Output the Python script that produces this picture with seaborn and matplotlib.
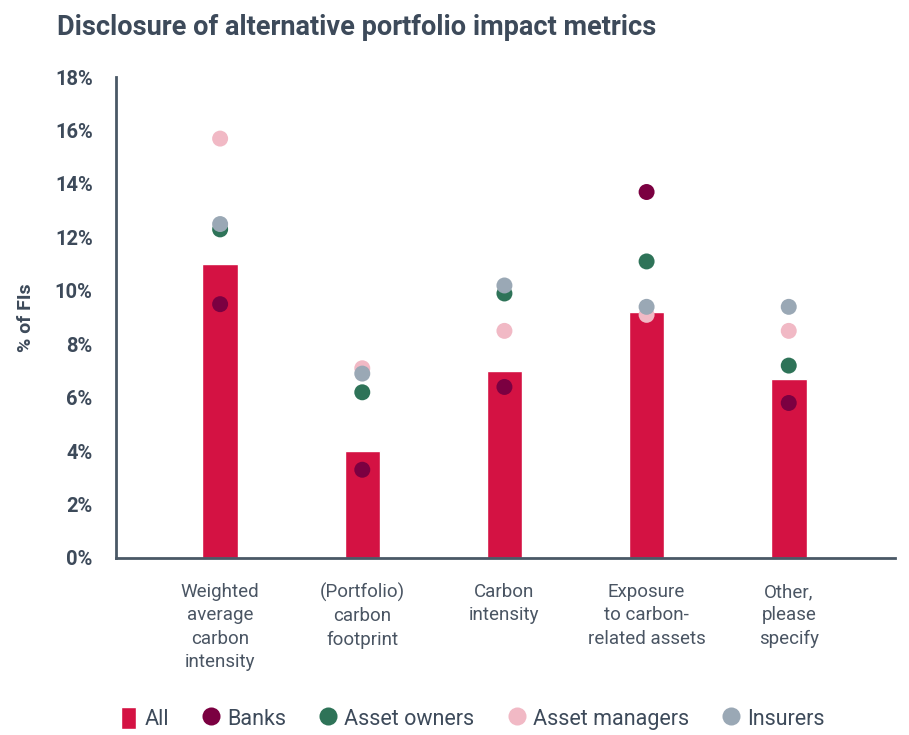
import matplotlib
matplotlib.use("Agg")
import matplotlib.pyplot as plt
from matplotlib.patches import Patch
from matplotlib.lines import Line2D
import seaborn as sns
import pandas as pd

categories = [
    "Weighted\naverage\ncarbon\nintensity",
    "(Portfolio)\ncarbon\nfootprint",
    "Carbon\nintensity",
    "Exposure\nto carbon-\nrelated assets",
    "Other,\nplease\nspecify",
]
all_fis = [11.0, 4.0, 7.0, 9.2, 6.7]
banks = [9.5, 3.3, 6.4, 13.7, 5.8]
asset_owners = [12.3, 6.2, 9.9, 11.1, 7.2]
asset_managers = [15.7, 7.1, 8.5, 9.1, 8.5]
insurers = [12.5, 6.9, 10.2, 9.4, 9.4]
y_ticks = [0, 2, 4, 6, 8, 10, 12, 14, 16, 18]

TEXT = "#3d4a5a"
BAR = "#d41243"
palette = {
    "Banks": "#7b0041",
    "Asset owners": "#2e7358",
    "Asset managers": "#f1b9c5",
    "Insurers": "#9aa8b5",
}

sns.set_style("white")
plt.rcParams["font.family"] = ["Roboto", "DejaVu Sans"]

bars = pd.DataFrame({"metric": categories, "value": all_fis})
groups = {"Banks": banks, "Asset owners": asset_owners,
          "Asset managers": asset_managers, "Insurers": insurers}
rows = []
for i, cat in enumerate(categories):
    for name, vals in groups.items():
        rows.append({"metric": cat, "group": name, "value": vals[i]})
points = pd.DataFrame(rows)

fig = plt.figure(figsize=(9.09, 7.35), dpi=100)
ax = fig.add_axes([0.128, 0.241, 0.857, 0.654])

sns.barplot(data=bars, x="metric", y="value", color=BAR, width=0.25,
            saturation=1, ax=ax, order=categories)
sns.stripplot(data=points, x="metric", y="value", hue="group", palette=palette,
              hue_order=list(palette), jitter=False, dodge=False, size=11.5,
              linewidth=0, ax=ax, order=categories, legend=False, zorder=3)

ax.set_xlim(-0.73, 4.75)
ax.set_ylim(0, 18)
ax.set_yticks(y_ticks)
ax.set_yticklabels([f"{t}%" for t in y_ticks], fontsize=14.5, fontweight="bold", color=TEXT)
ax.tick_params(axis="y", length=0, pad=17)
ax.tick_params(axis="x", length=0, pad=18)
for lbl in ax.get_xticklabels():
    lbl.set_fontsize(13.5)
    lbl.set_color("#4a5563")
    lbl.set_linespacing(1.38)
ax.set_xlabel("")
ax.set_ylabel("% of FIs", fontsize=14, fontweight="bold", color=TEXT, labelpad=14)

for side in ["top", "right"]:
    ax.spines[side].set_visible(False)
for side in ["left", "bottom"]:
    ax.spines[side].set_color("#4a5866")
    ax.spines[side].set_linewidth(2)

fig.text(0.063, 0.963, "Disclosure of alternative portfolio impact metrics",
         fontsize=19.5, fontweight="bold", color=TEXT, va="center")

handles = [Patch(facecolor=BAR, label="All")]
for name, col in palette.items():
    handles.append(Line2D([], [], marker="o", linestyle="", markersize=13,
                          markerfacecolor=col, markeredgewidth=0, label=name))
leg = fig.legend(handles=handles, loc="center", bbox_to_anchor=(0.52, 0.022),
                 ncol=5, frameon=False, fontsize=15.5, handlelength=0.7,
                 handleheight=1.2, handletextpad=0.4, columnspacing=1.6)
for t in leg.get_texts():
    t.set_color(TEXT)

fig.savefig("out.png", dpi=100)
